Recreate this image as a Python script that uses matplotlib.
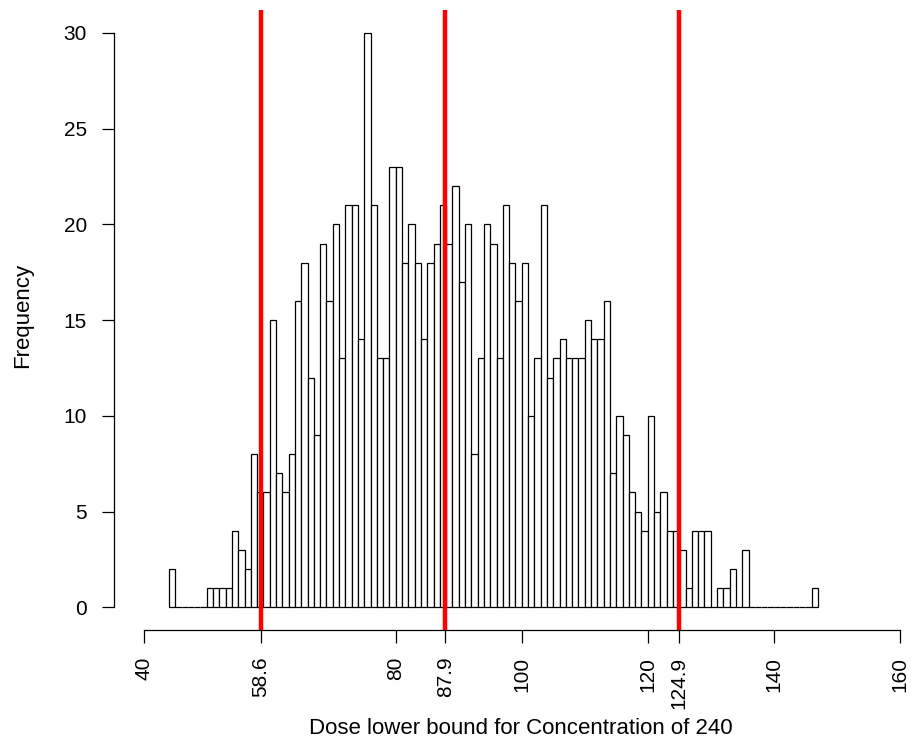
import numpy as np
import matplotlib
matplotlib.use('Agg')
import matplotlib.pyplot as plt

plt.rcParams['font.family'] = ['Liberation Sans', 'DejaVu Sans']

# histogram counts, one per unit-wide bin starting at 44
first_break = 44
counts = [2, 0, 0, 0, 0, 0, 1, 1, 1, 1,
          4, 3, 2, 8, 6, 6, 15, 7, 6, 8,
          16, 18, 12, 9, 19, 16, 20, 13, 21, 21,
          14, 30, 21, 13, 13, 23, 23, 18, 20, 18,
          14, 18, 19, 21, 19, 22, 17, 20, 8, 13,
          20, 19, 13, 21, 18, 16, 18, 10, 13, 21,
          12, 13, 14, 13, 13, 13, 15, 14, 14, 16,
          7, 10, 9, 6, 5, 4, 10, 5, 6, 4,
          4, 3, 1, 4, 4, 4, 0, 1, 1, 2,
          0, 3, 0, 0, 0, 0, 0, 0, 0, 0,
          0, 0, 1]
bin_edges = first_break + np.arange(len(counts) + 1)

cut_points = [58.6, 87.9, 124.9]
x_ticks = [40, 58.6, 80, 87.9, 100, 120, 124.9, 140, 160]
x_tick_labels = ['40', '58.6', '80', '87.9', '100', '120', '124.9', '140', '160']
y_ticks = [0, 5, 10, 15, 20, 25, 30]

fig = plt.figure(figsize=(9.14, 7.42), dpi=100)
ax = fig.add_axes([113.5 / 914, 111.7 / 742, 1 - 113.5 / 914, (732 - 111.7) / 742])

ax.bar(bin_edges[:-1], counts, width=1, align='edge', facecolor='white',
       edgecolor='black', linewidth=0.9)

for c in cut_points:
    ax.axvline(c, color='#ff0000', linewidth=3.2)

ax.set_xlim(35.2, 40 + (914 - 143.7) / 6.3)
ax.set_ylim(-1.2, 31.2)

for side in ['top', 'right']:
    ax.spines[side].set_visible(False)
ax.spines['left'].set_bounds(0, 30)
ax.spines['bottom'].set_bounds(40, 160)
ax.spines['left'].set_linewidth(0.9)
ax.spines['bottom'].set_linewidth(0.9)

ax.set_xticks(x_ticks)
ax.set_xticklabels(x_tick_labels, rotation=90)
ax.set_yticks(y_ticks)
ax.tick_params(axis='both', length=9, width=0.9, labelsize=15, pad=10)

ax.set_xlabel('Dose lower bound for Concentration of 240', fontsize=16)
ax.set_ylabel('Frequency', fontsize=16)
ax.xaxis.set_label_coords(0.509, -0.142)
ax.yaxis.set_label_coords(-0.1006, 0.507)

fig.savefig('out.png', dpi=100)
